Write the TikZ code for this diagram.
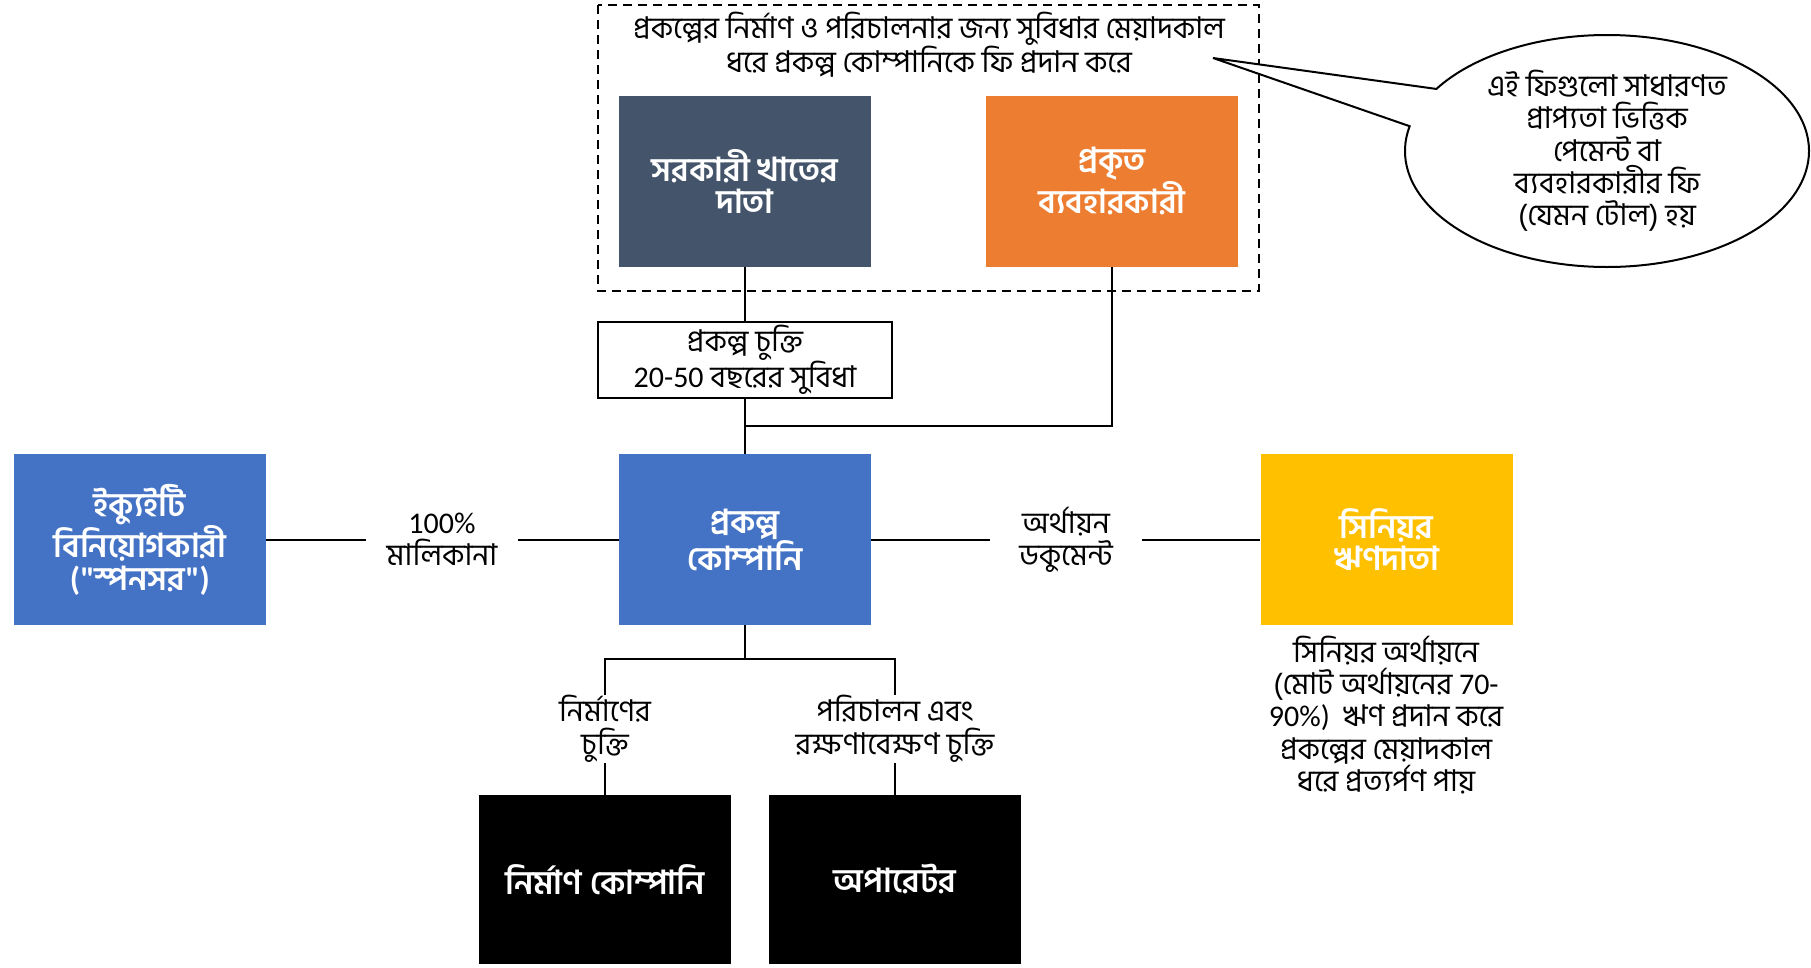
\documentclass[tikz,border=0pt]{standalone}
\usepackage{fontspec}
\setmainfont[Script=Bengali]{Hind Siliguri}
\newfontfamily\numfont{Carlito}
\usetikzlibrary{shapes.callouts}
\definecolor{slate}{HTML}{44546A}
\definecolor{orangefill}{HTML}{ED7D31}
\definecolor{bluefill}{HTML}{4472C4}
\definecolor{goldfill}{HTML}{FFC000}
\newcommand\lbl{\fontsize{30}{32.3}\selectfont}
\newcommand\boxlbl{\fontsize{33}{32.6}\selectfont}
\begin{document}
\begin{tikzpicture}[x=1pt,y=-1pt,
  conn/.style={draw=black,line width=2pt},
  party/.style={rectangle,minimum width=252pt,minimum height=171pt,inner sep=0pt,
    text=white,align=center,font=\boxlbl\bfseries},
  caption/.style={align=center,inner sep=0pt,font=\lbl},
  gaplabel/.style={caption,minimum width=152pt,minimum height=66pt}]
\useasboundingbox (0,0) rectangle (1811,967);

% dashed frame around the fee payers
\draw[line width=2pt,dash pattern=on 9pt off 6pt] (598,5) rectangle (1259,291);
\node[caption] (feetext) at (929,45) {প্রকল্পের নির্মাণ ও পরিচালনার জন্য সুবিধার মেয়াদকাল\\ধরে প্রকল্প কোম্পানিকে ফি প্রদান করে};

% fee payers
\node[party,fill=slate] (gov) at (745,181.5) {সরকারী খাতের\\দাতা};
\node[party,fill=orangefill] (user) at (1112,181) {প্রকৃত\\ব্যবহারকারী};

% speech bubble
\coordinate (tip) at (1213,58);
\node[ellipse callout,draw=black,fill=white,line width=2pt,
  minimum width=404pt,minimum height=232pt,inner sep=0pt,
  callout absolute pointer={(tip)},callout pointer arc=20,
  align=center,font=\lbl] (note) at (1607,151)
  {এই ফিগুলো সাধারণত\\প্রাপ্যতা ভিত্তিক\\পেমেন্ট বা\\ব্যবহারকারীর ফি\\(যেমন টোল) হয়};

% project agreement
\node[draw=black,line width=2pt,rectangle,minimum width=294pt,minimum height=76pt,
  inner sep=0pt,align=center,font=\lbl] (agree) at (745,360)
  {প্রকল্প চুক্তি\\{\numfont 20-50} বছরের সুবিধা};

% central row
\node[party,fill=bluefill] (pc) at (745,539.5) {প্রকল্প\\কোম্পানি};
\node[party,fill=bluefill] (equity) at (140,539.5) {ইক্যুইটি\\বিনিয়োগকারী\\{\numfont("}স্পনসর{\numfont")}};
\node[party,fill=goldfill] (senior) at (1386.5,539.5) {সিনিয়র\\ঋণদাতা};
\node[gaplabel] (own) at (442,539.5) {{\numfont 100\%}\\মালিকানা};
\node[gaplabel] (fin) at (1066,539.5) {অর্থায়ন\\ডকুমেন্ট};
\node[caption] (seniornote) at (1386,715)
  {সিনিয়র অর্থায়নে\\(মোট অর্থায়নের {\numfont 70-}\\{\numfont 90\%)}\ \ ঋণ প্রদান করে\\প্রকল্পের মেয়াদকাল\\ধরে প্রত্যর্পণ পায়};

% contractors
\node[party,fill=black,minimum height=169pt] (build) at (605,879.5) {নির্মাণ কোম্পানি};
\node[party,fill=black,minimum height=169pt] (oper) at (895,879.5) {অপারেটর};
\node[caption,minimum height=68pt] (buildlbl) at (605,729) {নির্মাণের\\চুক্তি};
\node[caption,minimum height=68pt] (operlbl) at (895,729) {পরিচালন এবং\\রক্ষণাবেক্ষণ চুক্তি};

% connectors
\coordinate (merge) at (745,426);
\coordinate (split) at (745,659);
\draw[conn] (gov.south) -- (agree.north);
\draw[conn] (agree.south) -- (pc.north);
\draw[conn] (user.south) |- (merge);
\draw[conn] (equity.east) -- (own.west);
\draw[conn] (own.east) -- (pc.west);
\draw[conn] (pc.east) -- (fin.west);
\draw[conn] (fin.east) -- (senior.west);
\draw[conn] (pc.south) -- (split);
\draw[conn] (split) -| (buildlbl.north);
\draw[conn] (split) -| (operlbl.north);
\draw[conn] (buildlbl.south) -- (build.north);
\draw[conn] (operlbl.south) -- (oper.north);
\end{tikzpicture}
\end{document}
